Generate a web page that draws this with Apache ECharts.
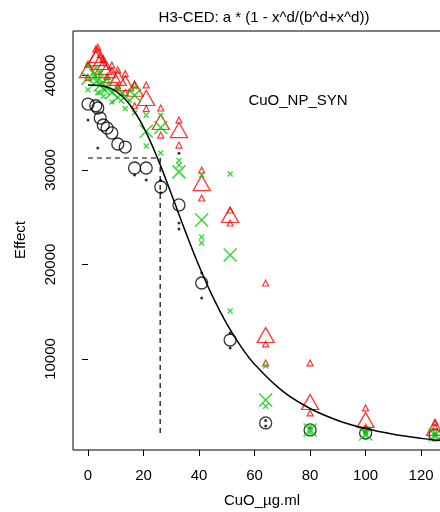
<!DOCTYPE html>
<html><head><meta charset="utf-8">
<script src="https://cdn.jsdelivr.net/npm/echarts@6/dist/echarts.min.js"></script>
<style>html,body{margin:0;padding:0;background:#fff;overflow:hidden}#c{width:460px;height:512px}</style>
</head><body><div id="c"></div>
<script>
const doses = [0, 2.81, 3.52, 4.4, 5.5, 6.87, 8.59, 10.74, 13.42, 16.78, 20.97, 26.21, 32.77, 40.96, 51.2, 64, 80, 100, 125];
const blackMeans = [36980, 36800, 36560, 35500, 34760, 34440, 33920, 32750, 32430, 30210, 30210, 28200, 26300, 18040, 12010, 3230, 2490, 2170, 1960];
const redMeans = [40580, 41850, 42170, 41430, 40900, 40580, 40050, 39740, 39200, 38600, 37620, 35080, 34230, 28620, 25240, 12540, 5450, 3550, 2700];
const greenMeans = [39700, 40000, 39500, 39000, 38600, 38700, 38200, 37700, 37800, 37900, 34100, 34500, 29800, 24700, 21000, 5660, 2490, 2060, 1960];
const blackReps = [[0,35290],[3.52,32330],[16.78,29470],[20.97,28940],[26.21,28900],[26.21,27600],[32.77,31780],[32.77,24390],[32.77,23760],[40.96,19100],[40.96,16460],[51.2,12750],[51.2,11160],[64,3500],[64,2900],[80,2700],[100,2300],[125,2100]];
const redReps = [[0,39800],[0,41200],[2.81,42800],[3.52,43000],[4.4,42200],[5.5,41800],[6.87,39900],[8.59,41100],[10.74,40600],[10.74,38900],[13.42,40200],[13.42,38200],[16.78,39000],[16.78,36800],[20.97,39000],[20.97,36500],[26.21,36560],[26.21,33700],[32.77,35290],[32.77,32640],[40.96,30000],[40.96,27040],[51.2,25770],[51.2,24390],[64,18040],[64,11590],[64,9580],[80,9580],[80,4290],[100,4820],[100,2800],[125,3330],[125,2800]];
const greenReps = [[0,41000],[0,38500],[2.81,40800],[3.52,38200],[4.4,40300],[5.5,37800],[6.87,39600],[8.59,37200],[10.74,38600],[13.42,36500],[16.78,36030],[16.78,38800],[20.97,32540],[20.97,35800],[26.21,31800],[26.21,35800],[32.77,30530],[32.77,31000],[40.96,29470],[40.96,22910],[40.96,22280],[51.2,29580],[51.2,15080],[64,9260],[64,5000],[80,2200],[80,2800],[100,1900],[100,2300],[125,1800],[125,2200]];
const curveX = [0, 5, 10, 15, 20, 25, 30, 35, 40, 45, 50, 55, 60, 70, 80, 90, 100, 110, 120, 127];
const curveY = [39000, 38910, 38340, 36930, 34540, 31280, 27480, 23560, 19850, 16550, 13720, 11370, 9450, 6620, 4760, 3500, 2640, 2040, 1600, 1370];
const edDose = 26, edEffect = 31270, dashFloor = 1900;
const xTicks = [0, 20, 40, 60, 80, 100, 120];
const yTicks = [10000, 20000, 30000, 40000];
const titleText = 'H3-CED: a * (1 - x^d/(b^d+x^d))';
const panelText = 'CuO_NP_SYN';
const xName = 'CuO_µg.ml', yName = 'Effect';

const FONT = '"Liberation Sans", Arial, sans-serif';
const pair = (xs, ys) => xs.map((x, i) => [x, ys[i]]);
const XPATH = 'path://M0,0L10,10M10,0L0,10';
const clear = 'rgba(0,0,0,0)';
const RED = '#ff0000', GREEN = '#00cd00';

const chart = echarts.init(document.getElementById('c'), null, {renderer: 'canvas'});
chart.setOption({
  animation: false,
  backgroundColor: '#fff',
  grid: {left: 73, top: 31, right: 0, bottom: 62, show: true, borderColor: '#000', borderWidth: 1, backgroundColor: clear},
  xAxis: {type: 'value', min: -5.4, max: 134,
    axisLine: {show: false}, splitLine: {show: false},
    axisTick: {show: true, inside: false, length: 6, lineStyle: {color: '#000'}, customValues: xTicks},
    axisLabel: {customValues: xTicks, color: '#000', fontSize: 15, fontFamily: FONT, margin: 18}},
  yAxis: {type: 'value', min: 370, max: 44710,
    axisLine: {show: false}, splitLine: {show: false},
    axisTick: {show: true, inside: false, length: 6, lineStyle: {color: '#000'}, customValues: yTicks},
    axisLabel: {customValues: yTicks, rotate: 90, color: '#000', fontSize: 15, fontFamily: FONT, margin: 15,
      formatter: v => String(Math.round(v))}},
  graphic: [
    {type: 'text', x: 264, y: 18, style: {text: titleText, font: '15px ' + FONT, fill: '#000', textAlign: 'center', textVerticalAlign: 'middle'}},
    {type: 'text', x: 298, y: 101, style: {text: panelText, font: '15px ' + FONT, fill: '#000', textAlign: 'center', textVerticalAlign: 'middle'}},
    {type: 'text', x: 262, y: 501, style: {text: xName, font: '15px ' + FONT, fill: '#000', textAlign: 'center', textVerticalAlign: 'middle'}},
    {type: 'text', x: 21, y: 240, rotation: Math.PI / 2, style: {text: yName, font: '15px ' + FONT, fill: '#000', textAlign: 'center', textVerticalAlign: 'middle'}}
  ],
  series: [
    {type: 'scatter', data: blackReps, symbol: 'circle', symbolSize: 3, itemStyle: {color: '#000'}, z: 2},
    {type: 'scatter', data: pair(doses, blackMeans), symbol: 'circle', symbolSize: 12, itemStyle: {color: clear, borderColor: '#000', borderWidth: 1.3}, z: 2},
    {type: 'scatter', data: redReps, symbol: 'triangle', symbolSize: 6, itemStyle: {color: clear, borderColor: RED, borderWidth: 1.2}, z: 3},
    {type: 'scatter', data: pair(doses, redMeans), symbol: 'triangle', symbolSize: [17, 15], itemStyle: {color: clear, borderColor: RED, borderWidth: 1.3}, z: 3},
    {type: 'scatter', data: greenReps, symbol: XPATH, symbolSize: 5, itemStyle: {color: clear, borderColor: GREEN, borderWidth: 1.3}, z: 4},
    {type: 'scatter', data: pair(doses, greenMeans), symbol: XPATH, symbolSize: 13, itemStyle: {color: clear, borderColor: GREEN, borderWidth: 1.5}, z: 4},
    {type: 'line', data: pair(curveX, curveY), smooth: 0.4, showSymbol: false, symbol: 'none', lineStyle: {color: '#000', width: 1.5}, z: 5},
    {type: 'line', data: [[0, edEffect], [edDose, edEffect]], showSymbol: false, symbol: 'none', lineStyle: {color: '#000', width: 1.2, type: [5, 4]}, z: 5},
    {type: 'line', data: [[edDose, edEffect], [edDose, dashFloor]], showSymbol: false, symbol: 'none', lineStyle: {color: '#000', width: 1.2, type: [5, 4]}, z: 5}
  ]
});
</script></body></html>
